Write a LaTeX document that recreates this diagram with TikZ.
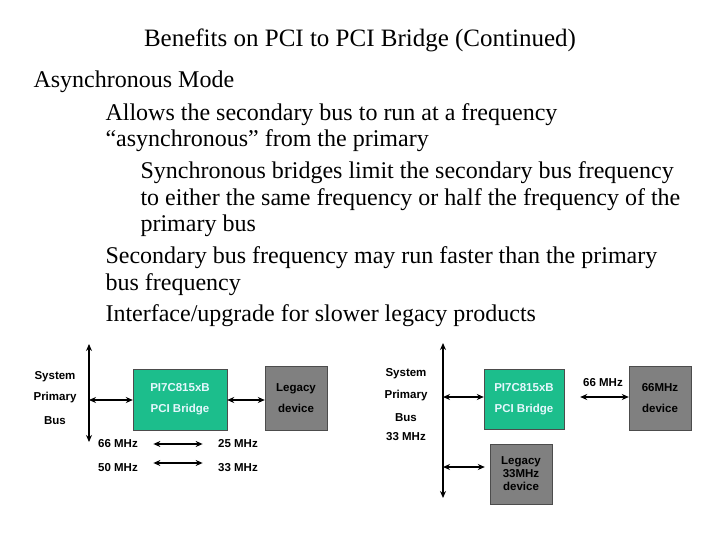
\documentclass[tikz,border=0pt]{standalone}
\usepackage{fontspec}
\setmainfont{Liberation Serif}
\newfontfamily\diagfont{Liberation Sans}
\usetikzlibrary{positioning}
\usetikzlibrary{arrows.meta}
\definecolor{bridgegreen}{RGB}{28,190,140}
\definecolor{devgray}{RGB}{128,128,128}
\begin{document}
\begin{tikzpicture}[x=1pt, y=-1pt,
        line/.style={anchor=west, font=\fontsize{24}{26}\selectfont},
        lbl/.style={font=\diagfont\bfseries\fontsize{11.5}{13}\selectfont, align=center},
        bridge/.style={rectangle, draw=black!70, fill=bridgegreen, text=cyan!10, font=\diagfont\bfseries\fontsize{11.5}{13}\selectfont, align=center},
        dev/.style={rectangle, draw=black!70, fill=devgray, font=\diagfont\bfseries\fontsize{11.5}{13}\selectfont, align=center},
        link/.style={{Stealth[length=7pt,width=6pt]}-{Stealth[length=7pt,width=6pt]}, line width=2pt}
      ]
        \useasboundingbox (0,0) rectangle (720,540);
        % title and text
        \node[font=\fontsize{25}{27}\selectfont] (title) at (360,40) {Benefits on PCI to PCI Bridge (Continued)};
        \node[line] (l1) at (30,82)  {Asynchronous Mode};
        \node[line] (l2) at (102,115) {Allows the secondary bus to run at a frequency};
        \node[line] (l3) at (102,141) {``asynchronous'' from the primary};
        \node[line] (l4) at (137,173) {Synchronous bridges limit the secondary bus frequency};
        \node[line] (l5) at (137,200) {to either the same frequency or half the frequency of the};
        \node[line] (l6) at (137,226) {primary bus};
        \node[line] (l7) at (102,258) {Secondary bus frequency may run faster than the primary};
        \node[line] (l8) at (102,285) {bus frequency};
        \node[line] (l9) at (102,316) {Interface/upgrade for slower legacy products};

        % left diagram
        \coordinate (busAtop) at (89,344);
        \coordinate (busAbot) at (89,442);
        \draw[link] (busAtop) -- (busAbot);
        \node[lbl] (sysA)  at (55,377) {System};
        \node[lbl] (priA)  at (55,398) {Primary};
        \node[lbl] (busA)  at (55,421) {Bus};
        \node[bridge, minimum width=94pt, minimum height=61pt] (bridgeA) at (180,399.5) {PI7C815xB\\[8pt]PCI Bridge};
        \node[dev, minimum width=62pt, minimum height=64pt] (legacyA) at (296,398) {Legacy\\[8pt]device};
        \coordinate (tapA) at (89,400);
        \draw[link] (tapA) -- (tapA -| bridgeA.west);
        \draw[link] (bridgeA.east |- tapA) -- (legacyA.west |- tapA);
        \node[lbl] (f66)  at (118,444) {66 MHz};
        \node[lbl] (f25)  at (238,444) {25 MHz};
        \node[lbl] (f50)  at (118,468) {50 MHz};
        \node[lbl] (f33)  at (238,468) {33 MHz};
        \draw[link] ([xshift=12pt]f66.east) -- ([xshift=-12pt]f25.west);
        \draw[link] ([xshift=12pt,yshift=5pt]f50.east) -- ([xshift=-12pt,yshift=5pt]f33.west);

        % right diagram
        \coordinate (busBtop) at (443,343);
        \coordinate (busBbot) at (443,498);
        \draw[link] (busBtop) -- (busBbot);
        \node[lbl] (sysB)  at (406,374) {System};
        \node[lbl] (priB)  at (406,396) {Primary};
        \node[lbl] (busB)  at (406,418) {Bus};
        \node[lbl] (clkB)  at (406,437) {33 MHz};
        \node[bridge, minimum width=80pt, minimum height=60pt] (bridgeB) at (524,399) {PI7C815xB\\[8pt]PCI Bridge};
        \node[dev, minimum width=62pt, minimum height=64pt] (fastB) at (660,398) {66MHz\\[8pt]device};
        \node[dev, minimum width=62pt, minimum height=60pt, inner sep=1pt] (legacyB) at (521,474) {Legacy\\33MHz\\device};
        \node[lbl] (f66B) at (603,383) {66 MHz};
        \coordinate (tapB1) at (443,397);
        \coordinate (tapB2) at (443,467);
        \draw[link] (tapB1) -- (tapB1 -| bridgeB.west);
        \draw[link] ([xshift=16pt]bridgeB.east |- tapB1) -- (fastB.west |- tapB1);
        \draw[link] (tapB2) -- ([xshift=-5pt]tapB2 -| legacyB.west);
      \end{tikzpicture}
\end{document}
